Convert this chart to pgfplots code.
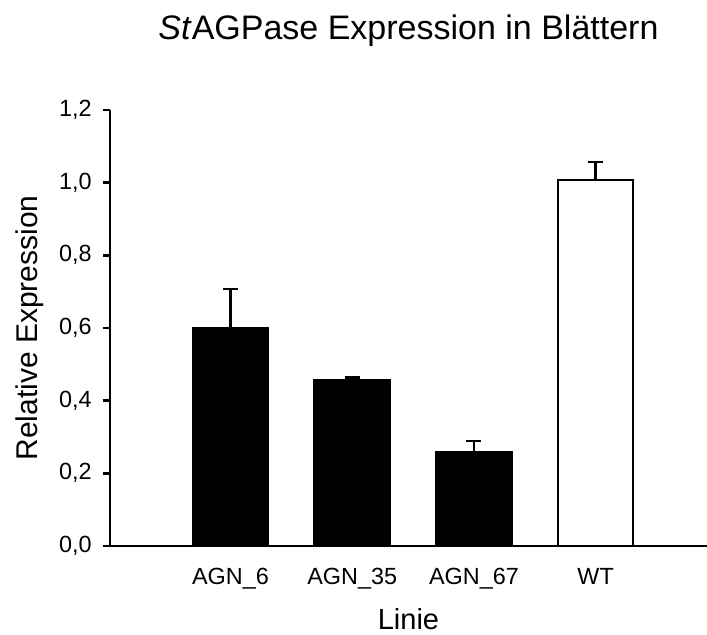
\documentclass[border=0pt]{standalone}
\usepackage{pgfplots}
\pgfplotsset{compat=1.18}
\usepackage{fontspec}
\setmainfont{Liberation Sans}
\begin{document}
\begin{tikzpicture}[x=1pt,y=1pt]
\useasboundingbox (-55,-44.5) rectangle (298.5,273);
\begin{axis}[
  at={(0,0)}, anchor=south west,
  scale only axis, width=298.5pt, height=218pt,
  xmin=-0.99, xmax=3.915, ymin=0, ymax=1.2,
  axis x line=bottom, axis y line=left,
  axis line style={-, line width=1.3pt},
  xtick={0,1,2,3},
  xticklabels={AGN\_6, AGN\_35, AGN\_67, WT},
  x tick style={draw=none},
  ytick={0,0.2,0.4,0.6,0.8,1.0,1.2},
  y tick style={line width=1.3pt, black},
  tick align=outside, major tick length=3.5pt,
  /pgf/number format/assume math mode=true,
  yticklabel style={/pgf/number format/use comma, /pgf/number format/fixed, /pgf/number format/fixed zerofill, /pgf/number format/precision=1},
  ticklabel style={font=\fontsize{11.7pt}{14pt}\selectfont},
  yticklabel style={anchor=east, inner sep=0pt, xshift=-5.5pt},
  xticklabel style={anchor=base, inner sep=0pt, yshift=-16pt},
  xlabel={Linie},
  xlabel style={font=\fontsize{14.5pt}{17pt}\selectfont, at={(0.5,0)}, anchor=base, inner sep=0pt, yshift=-42pt},
  ylabel={Relative Expression},
  ylabel style={font=\fontsize{15pt}{18pt}\selectfont, at={(-0.159,0.5)}, anchor=north, inner sep=0pt},
  title={\textit{St}AGPase Expression in Blättern},
  title style={font=\fontsize{17pt}{20pt}\selectfont, at={(0.5,1)}, anchor=base, inner sep=0pt, yshift=29pt},
  clip=false,
]
\addplot[ybar, bar shift=0pt, bar width=37.5pt, fill=black, draw=black, line width=1.3pt,
  error bars/.cd, y dir=plus, y explicit,
  error bar style={line width=1.3pt, black},
  error mark options={rotate=90, mark size=3.75pt, line width=1.3pt, black}]
  coordinates {(0,0.600) +- (0,0.107) (1,0.455) +- (0,0.009) (2,0.258) +- (0,0.031)};
\addplot[ybar, bar shift=0pt, bar width=37.5pt, fill=white, draw=black, line width=1.3pt,
  error bars/.cd, y dir=plus, y explicit,
  error bar style={line width=1.3pt, black},
  error mark options={rotate=90, mark size=3.75pt, line width=1.3pt, black}]
  coordinates {(3,1.007) +- (0,0.050)};
\end{axis}
\end{tikzpicture}
\end{document}
